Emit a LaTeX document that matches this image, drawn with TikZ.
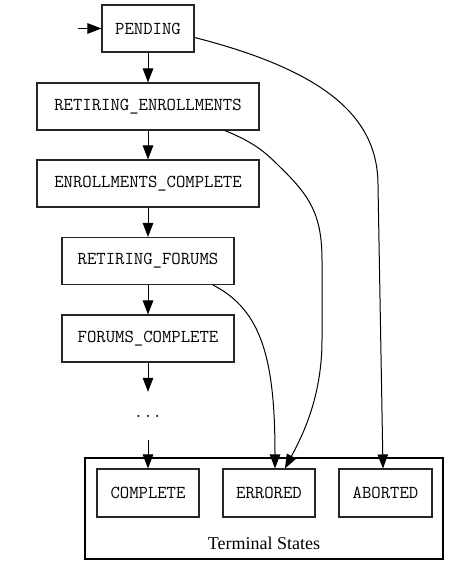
\documentclass[tikz,border=0pt]{standalone}
\usepackage{fontspec}
\setmainfont{Liberation Serif}
\usetikzlibrary{arrows.meta}
\tikzset{
  monof/.style={font=\ttfamily\fontsize{18.2}{21}\selectfont},
  state/.style={draw=black!85, line width=1.1pt, monof, minimum height=47pt, inner sep=0pt},
  edge/.style={draw=black, line width=1pt, -{Triangle[length=14pt,width=10.5pt]}},
  clusterbox/.style={draw=black, line width=1.1pt, inner sep=0pt}
}
\begin{document}
\begin{tikzpicture}[x=1pt,y=-1pt]
\useasboundingbox (0,0) rectangle (459,575);
\node[state, minimum width=92pt] (pend) at (148,28.5) {PENDING};
\node[state, minimum width=222pt] (re) at (148,106.5) {RETIRING\_ENROLLMENTS};
\node[state, minimum width=222pt] (ec) at (148,183.5) {ENROLLMENTS\_COMPLETE};
\node[state, minimum width=172pt] (rf) at (148,261) {RETIRING\_FORUMS};
\node[state, minimum width=172pt] (fc) at (148,338.5) {FORUMS\_COMPLETE};
\node[monof, minimum height=48pt, inner sep=0pt] (dots) at (148,416) {...};
\node[clusterbox, minimum width=358pt, minimum height=101pt] (cluster) at (264,508.5) {};
\node[font=\fontsize{18}{21}\selectfont, inner sep=0pt] (ctitle) at (264,543) {Terminal States};
\node[state, minimum width=102pt, minimum height=48pt] (comp) at (148,493) {COMPLETE};
\node[state, minimum width=92pt, minimum height=48pt] (err) at (269,493) {ERRORED};
\node[state, minimum width=93pt, minimum height=48pt] (abort) at (385.5,493) {ABORTED};
\coordinate (start) at (78,28.5);
\draw[edge] (start) -- (pend.west);
\draw[edge] (pend.south) -- (re.north);
\draw[edge] (re.south) -- (ec.north);
\draw[edge] (ec.south) -- (rf.north);
\draw[edge] (rf.south) -- (fc.north);
\draw[edge] (fc.south) -- (dots.north);
\draw[edge] (dots.south) -- (comp.north);
\draw[edge] ([yshift=-9pt]pend.east) .. controls (330,72) and (378,120) .. (378,185) -- ([xshift=-2.5pt]abort.north);
\draw[edge] ([xshift=77pt]re.south) .. controls (255,143) and (265,152) .. (280,167) .. controls (310,196) and (322,215) .. (322,260) -- (322,340) .. controls (322,400) and (300,440) .. ([xshift=16pt]err.north);
\draw[edge] ([xshift=65pt]rf.south) .. controls (262,310) and (275,360) .. ([xshift=6pt]err.north);
\end{tikzpicture}
\end{document}
